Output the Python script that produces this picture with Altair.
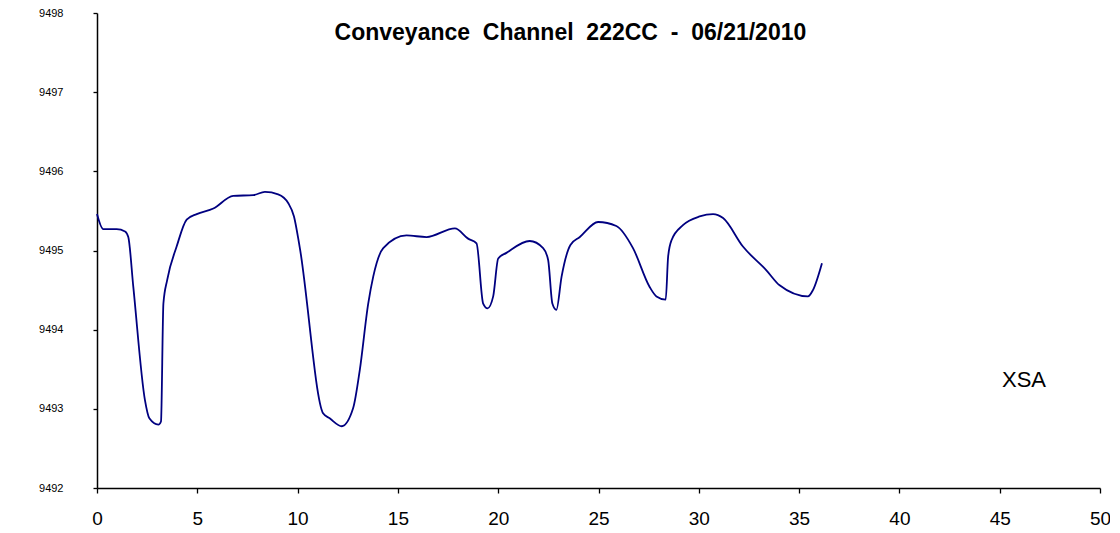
import altair as alt
import pandas as pd

station = [0, 0.31, 0.98, 1.4, 1.56, 1.81, 2.39, 2.61, 3.06, 3.19, 3.31, 3.5, 3.97, 4.47, 4.97,
           5.8, 6.79, 7.79, 8.37, 9.03, 9.53, 9.82, 10.1, 11.28, 11.6, 12.2, 12.77, 13.1, 13.52,
           13.77, 14.27, 15.43, 16.43, 17.84, 18.5, 18.92, 19.25, 19.47, 19.75, 20.0, 20.41,
           21.57, 22.24, 22.49, 22.7, 22.9, 23.16, 23.6, 24.07, 24.98, 25.89, 26.72, 27.55,
           27.89, 28.35, 28.47, 28.64, 29.21, 30.04, 30.71, 31.21, 32.2, 33.37, 34.03, 35.44,
           35.69, 36.14]
elev = [9495.46, 9495.27, 9495.27, 9495.24, 9495.17, 9494.54, 9493.11, 9492.88, 9492.80,
        9492.84, 9494.33, 9494.63, 9495.05, 9495.39, 9495.46, 9495.53, 9495.69, 9495.70,
        9495.74, 9495.71, 9495.60, 9495.43, 9495.05, 9492.94, 9492.88, 9492.78, 9493.01,
        9493.49, 9494.33, 9494.67, 9495.03, 9495.19, 9495.17, 9495.28, 9495.15, 9495.09,
        9494.33, 9494.27, 9494.42, 9494.90, 9494.97, 9495.12, 9495.03, 9494.88, 9494.33,
        9494.25, 9494.67, 9495.07, 9495.17, 9495.36, 9495.31, 9495.03, 9494.54, 9494.42,
        9494.38, 9494.92, 9495.13, 9495.32, 9495.43, 9495.46, 9495.41, 9495.05, 9494.75,
        9494.56, 9494.42, 9494.50, 9494.84]

title_text = ["Conveyance \u00a0Channel \u00a0222CC \u00a0- \u00a006/21/2010"]
title_pos = [(23.6, 9497.66)]
label_text = ["XSA"]
label_pos = [(46.21, 9493.28)]

df = pd.DataFrame({"station": station, "elev": elev})
xs = alt.Scale(domain=[0, 50], nice=False)
ys = alt.Scale(domain=[9492, 9498], nice=False, zero=False)

line = alt.Chart(df).mark_line(color="#000080", strokeWidth=1.8, interpolate="monotone").encode(
    x=alt.X("station:Q", scale=xs, title=None,
            axis=alt.Axis(values=list(range(0, 51, 5)), grid=False, domainColor="black",
                          tickColor="black", tickSize=5, labelPadding=16, labelFontSize=19,
                          labelFont="Liberation Sans", labelColor="black", labelFlush=False,
                          labelFontWeight="normal", domainWidth=1.3, tickWidth=1.3)),
    y=alt.Y("elev:Q", scale=ys, title=None,
            axis=alt.Axis(values=list(range(9492, 9499)), grid=False, domainColor="black",
                          tickColor="black", tickSize=4, labelPadding=30, labelFontSize=11,
                          labelFont="Liberation Sans", labelColor="black", format="d",
                          labelFlush=False, labelFontWeight="normal", domainWidth=1.5,
                          tickWidth=1.3)),
)

tdf = pd.DataFrame({"x": [p[0] for p in title_pos], "y": [p[1] for p in title_pos], "t": title_text})
title = alt.Chart(tdf).mark_text(font="Liberation Sans", fontSize=23, fontWeight="bold",
                                 color="black", align="center", baseline="alphabetic").encode(
    x=alt.X("x:Q", scale=xs), y=alt.Y("y:Q", scale=ys), text="t:N")

ldf = pd.DataFrame({"x": [p[0] for p in label_pos], "y": [p[1] for p in label_pos], "t": label_text})
lab = alt.Chart(ldf).mark_text(font="Liberation Sans", fontSize=22, color="black",
                               align="center", baseline="alphabetic").encode(
    x=alt.X("x:Q", scale=xs), y=alt.Y("y:Q", scale=ys), text="t:N")

chart = alt.layer(line, title, lab).properties(
    width=1003, height=475, autosize=alt.AutoSizeParams(type="none"),
    padding={"left": 89, "top": 5, "right": 10, "bottom": 40},
).configure_view(stroke=None)

chart.save("out.html", embed_options={"renderer": "svg", "actions": False})
